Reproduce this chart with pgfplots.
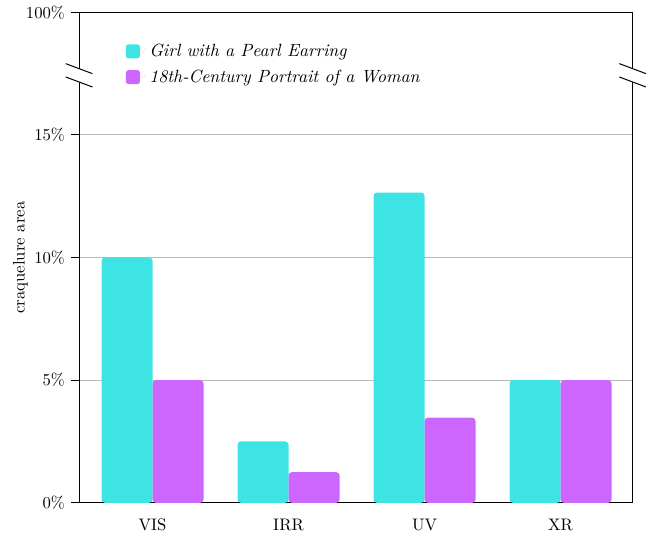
\documentclass[border=0pt]{standalone}
\usepackage{pgfplots}
\pgfplotsset{compat=1.18}
\definecolor{girl}{RGB}{62,228,228}
\definecolor{woman}{RGB}{204,102,255}
\begin{document}
\begin{tikzpicture}
\begin{axis}[
    scale only axis,
    width=331.8pt, height=294pt,
    ybar, bar width=0.375,
    ymin=0, ymax=20,
    xmin=-0.54, xmax=3.53,
    xtick={0,1,2,3},
    xticklabels={VIS,IRR,UV,XR},
    xtick style={draw=none},
    ytick={0,5,10,15},
    yticklabels={0\%,5\%,10\%,15\%},
    ytick pos=left,
    extra y ticks={20},
    extra y tick labels={100\%},
    extra y tick style={grid=none},
    ymajorgrids,
    grid style={gray!55, line width=0.5pt},
    tick align=outside,
    tick style={black, line width=0.5pt},
    major tick length=5pt,
    axis line style={black, line width=0.6pt},
    ylabel={craquelure area},
    ylabel style={yshift=-13pt},
    xticklabel style={yshift=-1pt},
    clip=false,
    legend style={draw=none, fill=none, at={(0.075,0.95)}, anchor=north west,
        font=\itshape\fontsize{10.6}{12.5}\selectfont, row sep=2.5pt, legend cell align=left},
    legend image code/.code={\path (0pt,0pt) rectangle (12pt,0pt);
        \fill[#1, rounded corners=1.5pt] (0pt,-4.2pt) rectangle (8.4pt,4.2pt);},
]
\addplot[fill=girl, draw=none, rounded corners=2pt, bar shift=-0.1875] coordinates {(0,10) (1,2.5) (2,12.65) (3,5)};
\addplot[fill=woman, draw=none, rounded corners=2pt, bar shift=0.1875] coordinates {(0,5) (1,1.25) (2,3.47) (3,5)};
\legend{Girl with a Pearl Earring, 18th-Century Portrait of a Woman}
% axis break marks, left
\fill[white] ([shift={(-8pt,7pt)}]rel axis cs:0,0.8715) -- ([shift={(8pt,1pt)}]rel axis cs:0,0.8715)
   -- ([shift={(8pt,-7pt)}]rel axis cs:0,0.8715) -- ([shift={(-8pt,-1pt)}]rel axis cs:0,0.8715) -- cycle;
\draw[black, line width=0.6pt] ([shift={(-8pt,7pt)}]rel axis cs:0,0.8715) -- ([shift={(8pt,1pt)}]rel axis cs:0,0.8715);
\draw[black, line width=0.6pt] ([shift={(-8pt,-1pt)}]rel axis cs:0,0.8715) -- ([shift={(8pt,-7pt)}]rel axis cs:0,0.8715);
% axis break marks, right
\fill[white] ([shift={(-8pt,7pt)}]rel axis cs:1,0.8715) -- ([shift={(8pt,1pt)}]rel axis cs:1,0.8715)
   -- ([shift={(8pt,-7pt)}]rel axis cs:1,0.8715) -- ([shift={(-8pt,-1pt)}]rel axis cs:1,0.8715) -- cycle;
\draw[black, line width=0.6pt] ([shift={(-8pt,7pt)}]rel axis cs:1,0.8715) -- ([shift={(8pt,1pt)}]rel axis cs:1,0.8715);
\draw[black, line width=0.6pt] ([shift={(-8pt,-1pt)}]rel axis cs:1,0.8715) -- ([shift={(8pt,-7pt)}]rel axis cs:1,0.8715);
% margins
\path ([xshift=11pt]rel axis cs:1,0.5) rectangle ([xshift=10pt]rel axis cs:1,0.5);
\path ([xshift=-47.4pt]rel axis cs:0,0.5) rectangle ([xshift=-47pt]rel axis cs:0,0.5);
\end{axis}
\end{tikzpicture}
\end{document}
